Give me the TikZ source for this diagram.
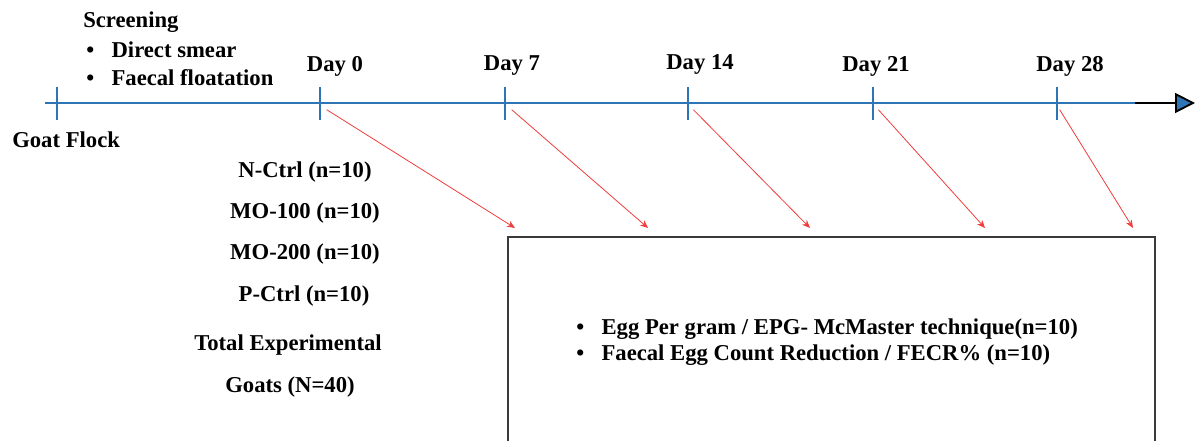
\documentclass[tikz,border=0pt]{standalone}
\usepackage{fontspec}
\setmainfont{Liberation Serif}
\usetikzlibrary{arrows.meta, positioning}
\definecolor{lineblue}{HTML}{2E75B6}
\definecolor{arrowred}{HTML}{F03C3C}
\definecolor{boxgray}{HTML}{3A3A3A}

\tikzset{
  lbl/.style={font=\fontsize{17}{20}\selectfont\bfseries, inner sep=0pt},
  tick/.style={draw=lineblue, line width=2.2pt},
  sample/.style={draw=arrowred, line width=0.6pt, -{Stealth[length=6pt, width=5pt]}},
}

\begin{document}
\begin{tikzpicture}[x=0.75pt, y=-0.75pt]
  \useasboundingbox (0,0) rectangle (1195,441);

  % timeline
  \coordinate (start) at (45,103);
  \coordinate (blueend) at (1135,103);
  \coordinate (tip) at (1195,103);
  \draw[draw=lineblue, line width=2.2pt] (start) -- (blueend);
  \draw[black, line width=1.4pt, -{Triangle[length=15pt, width=15pt, fill=lineblue]}] (blueend) -- (tip);

  % ticks
  \foreach \name/\x in {flock/57, d0/320, d7/505, d14/688, d21/873, d28/1057} {
    \coordinate (\name) at (\x,103);
    \draw[tick] (\x,87) -- (\x,120);
  }

  % day labels
  \node[lbl] (l0) at (335,66) {Day 0};
  \node[lbl] (l7) at (512,66) {Day 7};
  \node[lbl] (l14) at (700,64) {Day 14};
  \node[lbl] (l21) at (876,66) {Day 21};
  \node[lbl] (l28) at (1070,66) {Day 28};

  % screening
  \node[lbl, anchor=west] (screen) at (83,22) {Screening};
  \node[lbl, anchor=west] (smear) at (86,50) {\makebox[19pt][l]{\textbullet}Direct smear};
  \node[lbl, anchor=west] (float) at (86,78) {\makebox[19pt][l]{\textbullet}Faecal floatation};
  \node[lbl, anchor=west] (goat) at (12,140) {Goat Flock};

  % groups
  \node[lbl] (nctrl) at (305,172) {N-Ctrl (n=10)};
  \node[lbl] (mo100) at (305,213) {MO-100 (n=10)};
  \node[lbl] (mo200) at (305,254) {MO-200 (n=10)};
  \node[lbl] (pctrl) at (304,296) {P-Ctrl (n=10)};
  \node[lbl] (total) at (288,345) {Total Experimental};
  \node[lbl] (goats) at (290,387) {Goats (N=40)};

  % results box
  \node[draw=boxgray, line width=1.5pt, anchor=north west, minimum width=485pt, minimum height=165pt, inner sep=0pt] (results) at (507,236) {};
  \node[lbl, anchor=west, align=left] (tests) at (576,342) {\makebox[19pt][l]{\textbullet}Egg Per gram / EPG- McMaster technique(n=10)\\[0pt]\makebox[19pt][l]{\textbullet}Faecal Egg Count Reduction / FECR\% (n=10)};

  % sampling arrows
  \coordinate (t0) at (515,228);
  \coordinate (t7) at (648,228);
  \coordinate (t14) at (810,228);
  \coordinate (t21) at (985,228);
  \coordinate (t28) at (1133,228);
  \draw[sample] ([xshift=5pt, yshift=-5pt]d0) -- (t0);
  \draw[sample] ([xshift=5pt, yshift=-5pt]d7) -- (t7);
  \draw[sample] ([xshift=4pt, yshift=-5pt]d14) -- (t14);
  \draw[sample] ([xshift=4pt, yshift=-5pt]d21) -- (t21);
  \draw[sample] ([xshift=2pt, yshift=-5pt]d28) -- (t28);
\end{tikzpicture}
\end{document}
